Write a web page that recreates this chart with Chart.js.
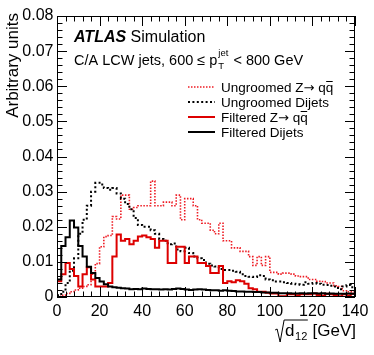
<!DOCTYPE html>
<html>
<head>
<meta charset="utf-8">
<script src="https://cdn.jsdelivr.net/npm/chart.js@4.4.1/dist/chart.umd.min.js"></script>
<style>
  html, body { margin: 0; padding: 0; background: #fff; }
  #wrap { width: 374px; height: 355px; }
</style>
</head>
<body>
<div id="wrap"><canvas id="chart" width="374" height="355"></canvas></div>
<script>
// sqrt(d12) histograms, 2 GeV bins from 0 to 140 GeV
const binLow = Array.from({length: 70}, (_, i) => i * 2)
const xMax = 140

// Ungroomed Z -> qq (red dotted)
const ungroomedZ = [
	0.0002, 0.0005, 0.001, 0.0015, 0.002, 0.0025, 0.003, 0.0035, 0.0065, 0.0095,
	0.0143, 0.0172, 0.0175, 0.0229, 0.0222, 0.029, 0.029, 0.025, 0.0255, 0.026,
	0.026, 0.026, 0.033, 0.026, 0.026, 0.027, 0.027, 0.026, 0.029, 0.022,
	0.028, 0.028, 0.026, 0.022, 0.021, 0.021, 0.019, 0.018, 0.021, 0.016,
	0.016, 0.014, 0.014, 0.013, 0.013, 0.0115, 0.009, 0.0115, 0.009, 0.0115,
	0.007, 0.007, 0.0065, 0.0068, 0.0068, 0.0065, 0.006, 0.0058, 0.0058, 0.005,
	0.005, 0.0045, 0.0044, 0.004, 0.004, 0.0032, 0.003, 0.0018, 0.0015, 0.0015
]
// Ungroomed dijets (black dotted)
const ungroomedDijets = [
	0.0005, 0.0015, 0.004, 0.0075, 0.011, 0.018, 0.022, 0.026, 0.030, 0.0325,
	0.032, 0.031, 0.0305, 0.031, 0.0295, 0.028, 0.0265, 0.025, 0.0225, 0.0205,
	0.020, 0.020, 0.019, 0.018, 0.0165, 0.016, 0.015, 0.0152, 0.0135, 0.013,
	0.014, 0.0125, 0.0115, 0.011, 0.0105, 0.0095, 0.009, 0.0087, 0.008, 0.0077,
	0.0077, 0.0075, 0.0072, 0.0065, 0.006, 0.0058, 0.0057, 0.0062, 0.006, 0.005,
	0.0048, 0.0044, 0.0044, 0.0042, 0.004, 0.0038, 0.0036, 0.0035, 0.0042, 0.0038,
	0.004, 0.0038, 0.0035, 0.0034, 0.0032, 0.003, 0.0022, 0.003, 0.0034, 0.0028
]
// Filtered Z -> qq (red solid)
const filteredZ = [
	0.0045, 0.0065, 0.0097, 0.008, 0.006, 0.003, 0.0065, 0.0085, 0.005, 0.003,
	0.003, 0.003, 0.004, 0.0115, 0.0178, 0.016, 0.0165, 0.015, 0.016, 0.0172,
	0.0175, 0.017, 0.0165, 0.014, 0.016, 0.016, 0.0097, 0.0097, 0.0143, 0.0143,
	0.0097, 0.0115, 0.0115, 0.0097, 0.0097, 0.0088, 0.0068, 0.0068, 0.0088, 0.004,
	0.0045, 0.0042, 0.0048, 0.0045, 0.0038, 0.0025, 0.0022, 0.0015, 0.0015, 0.0012,
	0.001, 0.001, 0.0002, 0.0002, 0.0008, 0.0008, 0.0005, 0.0008, 0.0008, 0.0008,
	0.001, 0.0006, 0.0004, 0.0009, 0.0008, 0.0006, 0.0002, 0.0008, 0.0004, 0.0009
]
// Filtered dijets (black solid)
const filteredDijets = [
	0.005, 0.0145, 0.017, 0.0218, 0.0198, 0.0145, 0.0115, 0.0086, 0.0068, 0.0054,
	0.0044, 0.0036, 0.003, 0.0028, 0.0026, 0.0025, 0.0024, 0.0022, 0.0023, 0.0022,
	0.0024, 0.0023, 0.0022, 0.0022, 0.0021, 0.0022, 0.0021, 0.0023, 0.0024, 0.0023,
	0.0021, 0.002, 0.0021, 0.0022, 0.0021, 0.002, 0.0019, 0.0019, 0.0018, 0.0019,
	0.0018, 0.0017, 0.0016, 0.0016, 0.0015, 0.0015, 0.0014, 0.0014, 0.0013, 0.0013,
	0.0012, 0.0012, 0.0011, 0.0011, 0.0011, 0.001, 0.001, 0.0011, 0.001, 0.0011,
	0.0011, 0.001, 0.0011, 0.0009, 0.001, 0.0009, 0.0009, 0.0009, 0.001, 0.0009
]

const xTickLabels = ["0", "20", "40", "60", "80", "100", "120", "140"]
const yTickLabels = ["0", "0.01", "0.02", "0.03", "0.04", "0.05", "0.06", "0.07", "0.08"]

const FONT = "'Liberation Sans', Arial, Helvetica, sans-serif"
const RED_DOT = "#ee1c24"
const RED = "#dd0000"

// histogram -> step points (low edges + closing edge)
toSteps = (vals) => vals.map((v, i) => ({x: binLow[i], y: v})).concat([{x: xMax, y: vals[vals.length - 1]}])

// draw a run of text pieces, returns end x
drawRun = (ctx, pieces, x, y) => {
	pieces.forEach(p => {
		ctx.font = p.font
		ctx.fillText(p.t, x, y + (p.dy || 0))
		const pw = ctx.measureText(p.t).width
		if (p.bar) {
			ctx.beginPath()
			ctx.lineWidth = 1
			ctx.strokeStyle = "#000"
			ctx.moveTo(x + 0.5, y - 10.5); ctx.lineTo(x + pw - 0.5, y - 10.5)
			ctx.stroke()
		}
		x += pw + (p.gap || 0)
	})
	return x
}

// frame, inner ticks, labels and legend in ROOT style
const atlasDecor = {
	id: "atlasDecor",
	afterDraw(chart) {
		const ctx = chart.ctx
		const ca = chart.chartArea
		const xs = chart.scales.x, ys = chart.scales.y
		ctx.save()
		ctx.strokeStyle = "#000"
		ctx.lineWidth = 1
		ctx.strokeRect(ca.left + 0.5, ca.top + 0.5, ca.right - ca.left - 1, ca.bottom - ca.top - 1)

		ctx.beginPath()
		for (let k = 0; k <= 40; k++) {
			const py = Math.round(ys.getPixelForValue(k * 0.002)) + 0.5
			const len = k % 5 === 0 ? 10 : 5.5
			ctx.moveTo(ca.left, py); ctx.lineTo(ca.left + len, py)
			ctx.moveTo(ca.right, py); ctx.lineTo(ca.right - len, py)
		}
		for (let k = 0; k <= 35; k++) {
			const px = Math.round(xs.getPixelForValue(k * 4)) + 0.5
			const len = k % 5 === 0 ? 10 : 5.5
			ctx.moveTo(px, ca.bottom); ctx.lineTo(px, ca.bottom - len)
			ctx.moveTo(px, ca.top); ctx.lineTo(px, ca.top + len)
		}
		ctx.stroke()

		ctx.fillStyle = "#000"
		ctx.textBaseline = "alphabetic"
		ctx.textAlign = "left"

		// ATLAS Simulation
		drawRun(ctx, [
			{t: "ATLAS", font: "italic bold 16px " + FONT},
			{t: " Simulation", font: "16px " + FONT}
		], 74, 42)

		// jet selection
		const big = "14.5px " + FONT, small = "9.5px " + FONT
		let x = drawRun(ctx, [{t: "C/A LCW jets, 600 \u2264 p", font: big, gap: 1}], 74, 65)
		ctx.font = small
		ctx.fillText("T", x, 69)
		drawRun(ctx, [
			{t: "jet", font: small, dy: -9, gap: 1},
			{t: " < 800 GeV", font: big}
		], x, 65)

		// legend
		const lf = "13.5px " + FONT
		const arrow = "13px 'DejaVu Sans', " + FONT
		const rows = [
			{pieces: [{t: "Ungroomed Z", font: lf}, {t: "\u2192", font: arrow}, {t: " q", font: lf}, {t: "q", font: lf, bar: true}],
				color: RED_DOT, width: 1.6, dash: [1.5, 1.5], y: 87},
			{pieces: [{t: "Ungroomed Dijets", font: lf}], color: "#000", width: 2, dash: [2, 2.4], y: 102},
			{pieces: [{t: "Filtered Z", font: lf}, {t: "\u2192", font: arrow}, {t: " q", font: lf}, {t: "q", font: lf, bar: true}],
				color: RED, width: 2, dash: [], y: 117},
			{pieces: [{t: "Filtered Dijets", font: lf}], color: "#000", width: 2, dash: [], y: 132}
		]
		rows.forEach(r => {
			ctx.beginPath()
			ctx.strokeStyle = r.color
			ctx.lineWidth = r.width
			ctx.setLineDash(r.dash)
			ctx.moveTo(188, r.y); ctx.lineTo(215, r.y)
			ctx.stroke()
			ctx.setLineDash([])
			ctx.fillStyle = "#000"
			drawRun(ctx, r.pieces, 221, r.y + 5)
		})

		// y axis title
		ctx.save()
		ctx.translate(17.5, 13)
		ctx.rotate(-Math.PI / 2)
		ctx.textAlign = "right"
		ctx.font = "17px " + FONT
		ctx.fillText("Arbitrary units", 0, 0)
		ctx.restore()

		// x axis title: sqrt(d12) [GeV]
		ctx.font = "17px " + FONT
		const dW = ctx.measureText("d").width
		const gev = " [GeV]"
		const gW = ctx.measureText(gev).width
		ctx.font = "11px " + FONT
		const sW = ctx.measureText("12").width
		const base = 336
		let tx = ca.right - (dW + sW + gW)
		ctx.font = "17px " + FONT
		ctx.fillText("d", tx, base)
		ctx.font = "11px " + FONT
		ctx.fillText("12", tx + dW + 0.5, base + 4)
		ctx.font = "17px " + FONT
		ctx.fillText(gev, tx + dW + sW + 1, base)
		ctx.beginPath()
		ctx.strokeStyle = "#000"
		ctx.lineWidth = 1
		ctx.moveTo(tx - 10, base - 6)
		ctx.lineTo(tx - 8, base - 7)
		ctx.lineTo(tx - 5, base + 6)
		ctx.lineTo(tx - 1, base - 16)
		ctx.lineTo(tx + dW + sW + 1, base - 16)
		ctx.stroke()
		ctx.restore()
	}
}

const mkSet = (label, vals, color, width, dash) => ({
	label: label,
	data: toSteps(vals),
	borderColor: color,
	borderWidth: width,
	borderDash: dash,
	stepped: "before",
	pointRadius: 0,
	fill: false,
	tension: 0
})

const ctx = document.getElementById("chart")
new Chart(ctx, {
	type: "line",
	data: {
		datasets: [
			mkSet("Filtered Dijets", filteredDijets, "#000", 2, []),
			mkSet("Filtered Z\u2192 qq\u0304", filteredZ, RED, 2, []),
			mkSet("Ungroomed Dijets", ungroomedDijets, "#000", 2, [2, 2.4]),
			mkSet("Ungroomed Z\u2192 qq\u0304", ungroomedZ, RED_DOT, 1.6, [1.5, 1.5])
		]
	},
	options: {
		responsive: false,
		animation: false,
		layout: {padding: {top: 16, right: 19, left: 0, bottom: 0}},
		plugins: {legend: {display: false}, tooltip: {enabled: false}},
		scales: {
			x: {
				type: "linear", min: 0, max: xMax,
				grid: {display: false, drawTicks: false}, border: {display: false},
				ticks: {
					stepSize: 20, autoSkip: false, maxRotation: 0, padding: 5,
					color: "#000", font: {family: FONT, size: 16},
					callback: (v, i) => xTickLabels[i]
				},
				afterFit: s => { s.height = 58 }
			},
			y: {
				min: 0, max: 0.08,
				grid: {display: false, drawTicks: false}, border: {display: false},
				ticks: {
					stepSize: 0.01, padding: 3.5,
					color: "#000", font: {family: FONT, size: 16},
					callback: (v, i) => yTickLabels[i]
				},
				afterFit: s => { s.width = 57 }
			}
		}
	},
	plugins: [atlasDecor]
})
</script>
</body>
</html>
